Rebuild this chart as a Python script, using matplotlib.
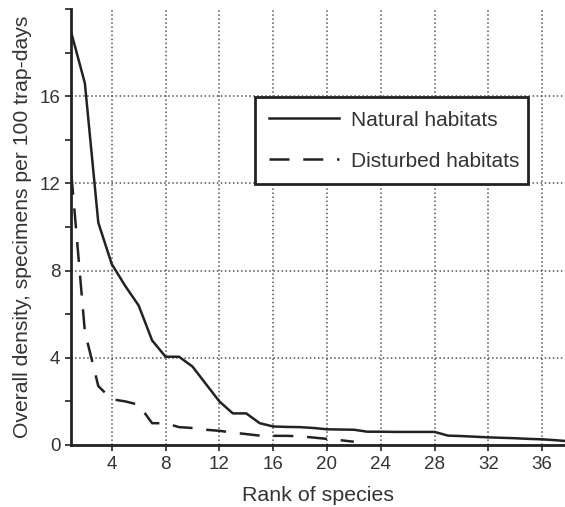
import numpy as np
import matplotlib
matplotlib.use("Agg")
import matplotlib.pyplot as plt
from matplotlib.ticker import MultipleLocator

plt.rcParams['font.family'] = ['Liberation Sans', 'DejaVu Sans']

# species rank vs overall density (specimens per 100 trap-days)
natural_rank = list(range(1, 39))
natural_density = [18.9, 16.6, 10.2, 8.3, 7.3, 6.4, 4.8, 4.05, 4.05, 3.6,
                   2.8, 2.0, 1.45, 1.45, 1.0, 0.85, 0.83, 0.82, 0.78, 0.72,
                   0.71, 0.70, 0.61, 0.61, 0.60, 0.60, 0.60, 0.60, 0.43, 0.41,
                   0.38, 0.35, 0.33, 0.31, 0.28, 0.26, 0.22, 0.17]

disturbed_rank = list(range(1, 23))
disturbed_density = [12.4, 5.2, 2.7, 2.1, 2.0, 1.85, 1.0, 1.0, 0.82, 0.78,
                     0.70, 0.65, 0.57, 0.50, 0.43, 0.42, 0.42, 0.40, 0.34, 0.28,
                     0.22, 0.15]

x_ticks = [4, 8, 12, 16, 20, 24, 28, 32, 36]
y_ticks = [0, 4, 8, 12, 16]

fig = plt.figure(figsize=(5.65, 5.07), dpi=100)
ax = fig.add_axes([0.1264, 0.1223, 0.8736, 0.8597])

ink = '#222222'
ax.plot(natural_rank, natural_density, color=ink, lw=1.8, label='Natural habitats')
ax.plot(disturbed_rank, disturbed_density, color=ink, lw=1.8,
        dashes=(8, 5.5), label='Disturbed habitats')

ax.set_xlim(1, 37.7)
ax.set_ylim(0, 20)
ax.set_xticks(x_ticks)
ax.set_yticks(y_ticks)
ax.yaxis.set_minor_locator(MultipleLocator(2))
ax.tick_params(axis='both', which='major', labelsize=13.5, colors=ink,
               labelcolor='#333333', direction='out', length=4, width=1.2, pad=4)
ax.tick_params(axis='y', which='minor', direction='out', length=4, width=1.2, colors=ink)

ax.grid(True, which='major', linestyle=':', color='#555555', lw=1.1)
ax.set_axisbelow(True)

for side in ['top', 'right']:
    ax.spines[side].set_visible(False)
for side in ['left', 'bottom']:
    ax.spines[side].set_linewidth(2)
    ax.spines[side].set_color(ink)

ax.set_xlabel('Rank of species', fontsize=15.4, color='#333333', labelpad=9)
ax.set_ylabel('Overall density, specimens per 100 trap-days', fontsize=15.2,
              color='#333333', labelpad=5)

leg = ax.legend(loc='upper left', bbox_to_anchor=(0.372, 0.798, 0.553, 0.0),
                mode='expand', fontsize=15, frameon=True, fancybox=False,
                framealpha=1, edgecolor=ink, handlelength=3.4,
                handletextpad=0.55, labelspacing=1.05, borderpad=0.65,
                borderaxespad=0)
leg.get_frame().set_linewidth(2)
for t in leg.get_texts():
    t.set_color('#333333')

fig.savefig('out.png', dpi=100)
